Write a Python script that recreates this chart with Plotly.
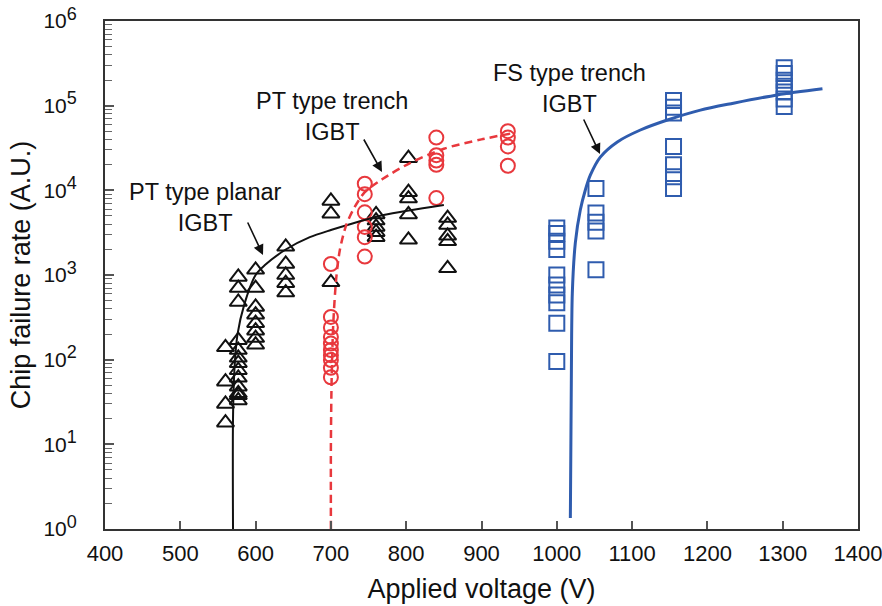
import plotly.graph_objects as go

# ---------------- data ----------------
# PT type planar IGBT (black open triangles)
planar_v = ([560] * 4 + [577] * 13 + [600] * 8 + [640] * 5 + [700] * 3 +
            [760] * 5 + [803] * 5 + [855] * 5)
planar_rate = ([140, 55, 30, 18] +
               [950, 700, 480, 170, 130, 105, 91, 75, 61, 48, 38, 33, 40] +
               [1150, 700, 420, 340, 270, 220, 180, 150] +
               [2150, 1350, 1000, 800, 620] +
               [7500, 5300, 820] +
               [5200, 4400, 3700, 3200, 2800] +
               [24000, 9500, 8000, 5200, 2600] +
               [4700, 3900, 2900, 2500, 1200])

# PT type trench IGBT (red open circles)
trench_v = [700] * 10 + [745] * 6 + [840] * 5 + [935] * 4
trench_rate = ([1350, 320, 240, 185, 155, 130, 113, 99, 80, 62] +
               [12000, 9000, 5500, 3700, 2800, 1650] +
               [42000, 26000, 22500, 20000, 8100] +
               [50000, 42000, 33000, 19500])

# FS type trench IGBT (blue open squares)
fs_v = [1000] * 10 + [1052] * 5 + [1155] * 7 + [1302] * 7
fs_rate = ([3600, 3100, 2500, 2000, 1000, 760, 580, 470, 270, 95] +
           [10500, 5400, 4200, 3300, 1150] +
           [115000, 96000, 82000, 33000, 20000, 14500, 10500] +
           [280000, 240000, 200000, 170000, 145000, 120000, 98000])

# fitted curves
planar_fit_v = [570, 570, 572, 576, 585, 600, 612, 640, 672, 700, 722, 770, 850]
planar_fit_rate = [1, 20, 80, 200, 450, 1000, 1300, 2000, 2800, 3400, 3900, 5100, 6700]

trench_fit_v = [700, 700, 701, 703, 707, 712, 720, 730, 745, 768, 805, 850, 900, 945]
trench_fit_rate = [1, 10, 60, 250, 900, 2000, 3800, 6000, 9500, 13500, 21000, 31000, 40000, 48000]

fs_fit_v = [1018, 1019.3, 1020.6, 1024.6, 1031.2, 1037.9, 1044.5, 1057.8, 1080.4,
            1111, 1146.8, 1190.7, 1234.6, 1293, 1352.8]
fs_fit_rate = [1.35, 57, 610, 2390, 5850, 10100, 15100, 24700, 37300,
               51600, 67700, 88700, 107000, 134000, 158000]

x_ticks = [400, 500, 600, 700, 800, 900, 1000, 1100, 1200, 1300, 1400]
y_ticks = [1, 10, 100, 1000, 10000, 100000, 1000000]
y_exponents = ["0", "1", "2", "3", "4", "5", "6"]
y_ticktext = ["10<sup><span style='font-size:18px'>%s</span></sup>" % e for e in y_exponents]
y_minor = [m * 10 ** d for d in range(6) for m in range(2, 10)]

FONT = "Arial, Liberation Sans, sans-serif"
BLACK = "#111111"
RED = "#e8383d"
BLUE = "#2f5cae"

fig = go.Figure()

fig.add_trace(go.Scatter(x=planar_v, y=planar_rate, mode="markers",
                         marker=dict(symbol="triangle-up-open", size=15, color=BLACK,
                                     line=dict(width=2, color=BLACK)),
                         showlegend=False))
fig.add_trace(go.Scatter(x=trench_v, y=trench_rate, mode="markers",
                         marker=dict(symbol="circle-open", size=14, color=RED,
                                     line=dict(width=2, color=RED)),
                         showlegend=False))
fig.add_trace(go.Scatter(x=fs_v, y=fs_rate, mode="markers",
                         marker=dict(symbol="square-open", size=15, color=BLUE,
                                     line=dict(width=2, color=BLUE)),
                         showlegend=False))

fig.add_trace(go.Scatter(x=planar_fit_v, y=planar_fit_rate, mode="lines",
                         line=dict(color=BLACK, width=2, shape="spline", smoothing=0.8),
                         showlegend=False))
fig.add_trace(go.Scatter(x=trench_fit_v, y=trench_fit_rate, mode="lines",
                         line=dict(color=RED, width=2.5, dash="8px,5px", shape="spline", smoothing=0.8),
                         showlegend=False))
fig.add_trace(go.Scatter(x=fs_fit_v, y=fs_fit_rate, mode="lines",
                         line=dict(color=BLUE, width=3, shape="spline", smoothing=0.8),
                         showlegend=False))

# plot area in pixels: left 105, right 858, top 21, bottom 529
L, R, T, B = 105, 858, 21, 529
def px(xp):
    return (xp - L) / (R - L)
def py(yp):
    return (B - yp) / (B - T)

ann = []
labels = [("PT type planar<br>IGBT", 205, 207),
          ("PT type trench<br>IGBT", 332, 116),
          ("FS type trench<br>IGBT", 569, 89)]
for text, xx, yy in labels:
    ann.append(dict(text=text, x=px(xx), y=py(yy), xref="paper", yref="paper",
                    showarrow=False, font=dict(family=FONT, size=23.5, color=BLACK),
                    xanchor="center", yanchor="middle", align="center"))
arrows = [((247, 221), (263, 255)), ((363, 138), (382, 172)), ((583, 118), (600, 154))]
for (tx, ty), (hx, hy) in arrows:
    ann.append(dict(text="", x=px(hx), y=py(hy), xref="paper", yref="paper",
                    ax=tx - hx, ay=ty - hy, showarrow=True, arrowhead=2,
                    arrowsize=1.3, arrowwidth=1.6, arrowcolor=BLACK, standoff=0))

fig.update_layout(
    width=882, height=606,
    margin=dict(l=L, r=882 - R, t=T, b=606 - B, autoexpand=False),
    paper_bgcolor="white", plot_bgcolor="white",
    font=dict(family=FONT, color=BLACK),
    annotations=ann,
    xaxis=dict(range=[400, 1400], tickvals=x_ticks, ticks="inside", ticklen=8,
               tickwidth=1.5, tickcolor="#555", showline=True, linecolor="#333",
               linewidth=2, mirror=True, showgrid=False, zeroline=False,
               automargin=False,
               ticklabeloverflow="allow", ticklabelstandoff=4,
               tickfont=dict(size=22, family=FONT, color=BLACK),
               title=dict(text="Applied voltage (V)", font=dict(size=27, family=FONT, color=BLACK),
                          standoff=14)),
    yaxis=dict(type="log", range=[0, 6], tickvals=y_ticks, ticktext=y_ticktext,
               ticks="inside", ticklen=9, tickwidth=1.5, tickcolor="#555",
               showline=True, linecolor="#333", linewidth=2, mirror=True,
               showgrid=False, zeroline=False, ticklabelstandoff=22,
               automargin=False,
               minor=dict(ticks="inside", ticklen=7, tickwidth=1.2, tickcolor="#666",
                          tickvals=y_minor, showgrid=False),
               tickfont=dict(size=21, family=FONT, color=BLACK),
               title=dict(text="Chip failure rate (A.U.)", font=dict(size=27, family=FONT, color=BLACK),
                          standoff=5)),
)

fig.write_html("out.html")
